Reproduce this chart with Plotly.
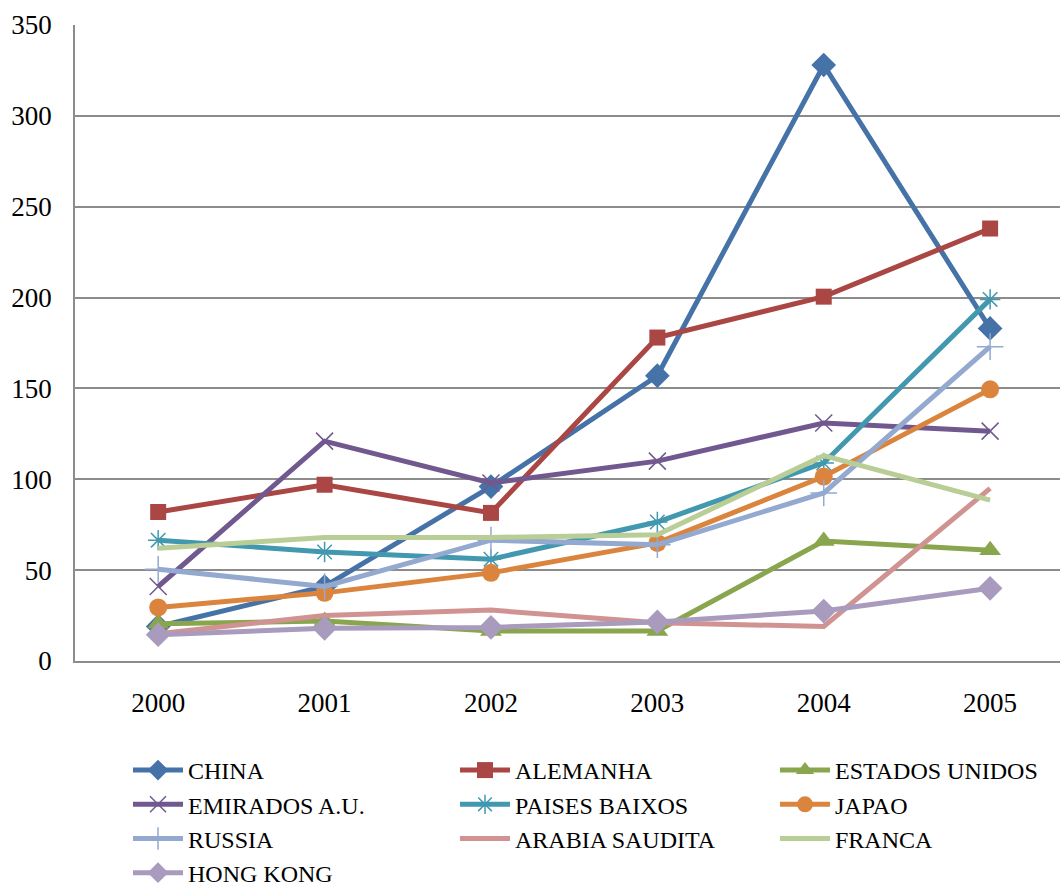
import plotly.graph_objects as go

years = ["2000", "2001", "2002", "2003", "2004", "2005"]

china = [19, 41, 96, 157, 328, 183]
alemanha = [82, 97, 81.5, 178, 200.5, 238]
estados_unidos = [20.5, 22, 16.5, 16.5, 66, 61]
emirados = [41, 121, 98, 110, 131, 126.5]
paises_baixos = [66.5, 60, 56, 76.5, 109, 199]
japao = [29.5, 37.5, 48.5, 65, 101.5, 149.5]
russia = [50.5, 41, 66.5, 64, 92.5, 173]
arabia_saudita = [15, 25, 28, 21, 19, 95]
franca = [62, 68, 68, 69.5, 113, 88.5]
hong_kong = [14.5, 18, 18.5, 21.5, 27.5, 40]

# (name, values, colour, marker symbol, marker size, marker line width, legend column)
series = [
    ("CHINA", china, "#4572A7", "diamond", 19, 0, "legend"),
    ("ALEMANHA", alemanha, "#AA4643", "square", 16, 0, "legend2"),
    ("ESTADOS UNIDOS", estados_unidos, "#89A54E", "triangle-up", 19, 0, "legend3"),
    ("EMIRADOS A.U.", emirados, "#71588F", "x-thin", 17, 1.5, "legend"),
    ("PAISES BAIXOS", paises_baixos, "#4198AF", "asterisk", 17, 1.5, "legend2"),
    ("JAPAO", japao, "#DB843D", "circle", 18, 0, "legend3"),
    ("RUSSIA", russia, "#93A9CF", "cross-thin", 19, 1.5, "legend"),
    ("ARABIA SAUDITA", arabia_saudita, "#D19392", None, 0, 0, "legend2"),
    ("FRANCA", franca, "#B9CD96", None, 0, 0, "legend3"),
    ("HONG KONG", hong_kong, "#A99BBD", "diamond", 19, 0, "legend"),
]

fig = go.Figure()
for name, vals, color, sym, size, lw, leg in series:
    if sym is None:
        fig.add_trace(go.Scatter(x=years, y=vals, name=name, mode="lines",
                                 line=dict(color=color, width=5), legend=leg))
    else:
        fig.add_trace(go.Scatter(
            x=years, y=vals, name=name, mode="lines+markers", legend=leg,
            line=dict(color=color, width=5),
            marker=dict(symbol=sym, size=size, color=color,
                        line=dict(color=color, width=lw))))

serif = "Liberation Serif, Times New Roman, DejaVu Serif, serif"
legfont = dict(family=serif, size=24, color="black")
legcommon = dict(orientation="v", xref="container", yref="container",
                 xanchor="left", yanchor="top", y=1 - 748 / 887,
                 font=legfont, tracegroupgap=0, itemwidth=50,
                 bgcolor="rgba(0,0,0,0)", borderwidth=0)

fig.update_layout(
    width=1060, height=887,
    margin=dict(l=75, r=0, t=25, b=225.5, autoexpand=False),
    paper_bgcolor="white", plot_bgcolor="white",
    font=dict(family=serif, size=27, color="black"),
    showlegend=True,
    legend=dict(x=128 / 1060, **legcommon),
    legend2=dict(x=455 / 1060, **legcommon),
    legend3=dict(x=775 / 1060, **legcommon),
    xaxis=dict(type="category", range=[-0.5, 5.42], showgrid=False,
               showline=True, linecolor="#8c8c8c", linewidth=1.5,
               ticks="", ticklabelstandoff=17, zeroline=False),
    yaxis=dict(range=[0, 350], dtick=50, showgrid=True, gridcolor="#8c8c8c",
               gridwidth=1.5, showline=True, linecolor="#8c8c8c", linewidth=1.5,
               ticks="", ticklabelstandoff=16, zeroline=False),
)

fig.write_html("out.html")
